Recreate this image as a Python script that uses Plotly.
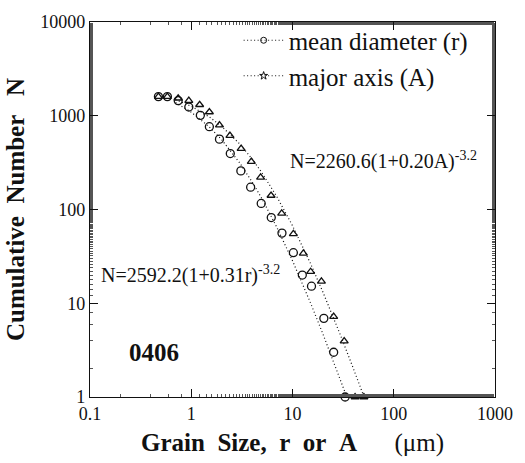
import plotly.graph_objects as go

# mean diameter r (um) and cumulative number N
r_size = [0.474, 0.581, 0.743, 0.946, 1.23, 1.51, 1.90, 2.43, 3.09, 3.86, 4.91, 6.17, 7.87,
          10.2, 12.5, 15.4, 20.4, 25.5, 33.1]
r_count = [1600, 1600, 1450, 1240, 1010, 764, 563, 395, 258, 173, 116, 82, 56,
           34.6, 20, 15.2, 6.9, 3.0, 1]

# major axis A (um) and cumulative number N
a_size = [0.474, 0.581, 0.743, 0.946, 1.21, 1.51, 1.90, 2.41, 3.11, 3.92, 4.84, 6.14, 7.82,
          10.2, 12.8, 15.1, 19.3, 25.5, 32.4, 41.5, 50.7]
a_count = [1600, 1600, 1537, 1453, 1310, 1097, 796, 615, 446, 324, 220, 141, 91,
           55, 34, 21.7, 17.1, 7.2, 3.95, 1, 1]

# fitted curves
r_fit_x = [0.7, 1, 1.5, 2, 3, 4, 5, 7, 10, 15, 20, 25, 30, 35]
r_fit_y = [1383, 1093, 764, 554, 316, 196, 130, 64.6, 28.4, 10.2, 4.68, 2.51, 1.49, 0.95]
a_fit_x = [0.7, 1, 1.5, 2, 3, 4, 5, 7, 10, 15, 20, 25, 30, 40, 52]
a_fit_y = [1486, 1261, 976, 770, 502, 345, 246, 137, 67.2, 26.8, 13.1, 7.31, 4.47, 2.0, 0.94]

x_ticks = [0.1, 1, 10, 100, 1000]
x_tick_text = ["0.1", "1", "10", "100", "1000"]
y_ticks = [1, 10, 100, 1000, 10000]
y_tick_text = ["1", "10", "100", "1000", "10000"]

SERIF = "Liberation Serif, Times New Roman, serif"
INK = "#111111"
SP = "\u00a0"
DOTS = "1px,2.5px"

fig = go.Figure()
fig.add_trace(go.Scatter(x=r_fit_x, y=r_fit_y, mode="lines", showlegend=False,
                         line=dict(color=INK, width=1.2, dash=DOTS)))
fig.add_trace(go.Scatter(x=a_fit_x, y=a_fit_y, mode="lines", showlegend=False,
                         line=dict(color=INK, width=1.2, dash=DOTS)))
fig.add_trace(go.Scatter(x=r_size, y=r_count, mode="markers", showlegend=False, cliponaxis=False,
                         marker=dict(symbol="circle-open", size=8, color=INK, line=dict(width=1.3))))
fig.add_trace(go.Scatter(x=a_size, y=a_count, mode="markers", showlegend=False, cliponaxis=False,
                         marker=dict(symbol="triangle-up-open", size=7, color=INK, line=dict(width=1.3))))
# legend entries
fig.add_trace(go.Scatter(x=[None], y=[None], mode="lines+markers", name="mean diameter (r)",
                         legendgroup="r",
                         line=dict(color=INK, width=1.2, dash=DOTS),
                         marker=dict(symbol="circle-open", size=6, color=INK)))
fig.add_trace(go.Scatter(x=[None], y=[None], mode="lines+markers", name="major axis (A)",
                         legendgroup="a",
                         line=dict(color=INK, width=1.2, dash=DOTS),
                         marker=dict(symbol="star-open", size=6, color=INK)))

axis_common = dict(type="log", showline=True, linecolor=INK, linewidth=1.2, mirror="ticks",
                   ticks="inside", ticklen=8, tickcolor=INK, showgrid=False, zeroline=False,
                   tickfont=dict(family=SERIF, size=18, color=INK),
                   minor=dict(ticks="inside", ticklen=3, tickcolor="#555555", showgrid=False))

x_title = ("<b>Grain" + SP * 2 + "Size," + SP * 2 + "r" + SP * 2 + "or" + SP * 2 + "A</b>"
           + SP * 6 + "(\u03bcm)")
y_title = "<b>Cumulative" + SP * 2 + "Number" + SP * 3 + "N</b>"

fig.update_xaxes(range=[-1, 3], tickvals=x_ticks, ticktext=x_tick_text,
                 title=dict(text=x_title, font=dict(family=SERIF, size=25, color=INK), standoff=10),
                 **axis_common)
fig.update_yaxes(range=[0, 4], tickvals=y_ticks, ticktext=y_tick_text,
                 title=dict(text=y_title, font=dict(family=SERIF, size=25, color=INK), standoff=8),
                 **axis_common)

fig.add_annotation(x=0.49, y=0.632, xref="paper", yref="paper", xanchor="left", yanchor="middle",
                   text="N=2260.6(1+0.20A)<sup>-3.2</sup>", showarrow=False,
                   font=dict(family=SERIF, size=20, color=INK))
fig.add_annotation(x=0.022, y=0.327, xref="paper", yref="paper", xanchor="left", yanchor="middle",
                   text="N=2592.2(1+0.31r)<sup>-3.2</sup>", showarrow=False,
                   font=dict(family=SERIF, size=20, color=INK))
fig.add_annotation(x=0.092, y=0.118, xref="paper", yref="paper", xanchor="left", yanchor="middle",
                   text="<b>0406</b>", showarrow=False,
                   font=dict(family=SERIF, size=25, color=INK))

fig.update_layout(
    width=525, height=463,
    margin=dict(l=90, r=25, t=15, b=66),
    paper_bgcolor="white", plot_bgcolor="white",
    legend=dict(x=0.367, y=1.012, xanchor="left", yanchor="top", traceorder="grouped",
                tracegroupgap=0, itemwidth=40, bgcolor="rgba(0,0,0,0)",
                font=dict(family=SERIF, size=25, color=INK)),
)

fig.write_html("out.html")
